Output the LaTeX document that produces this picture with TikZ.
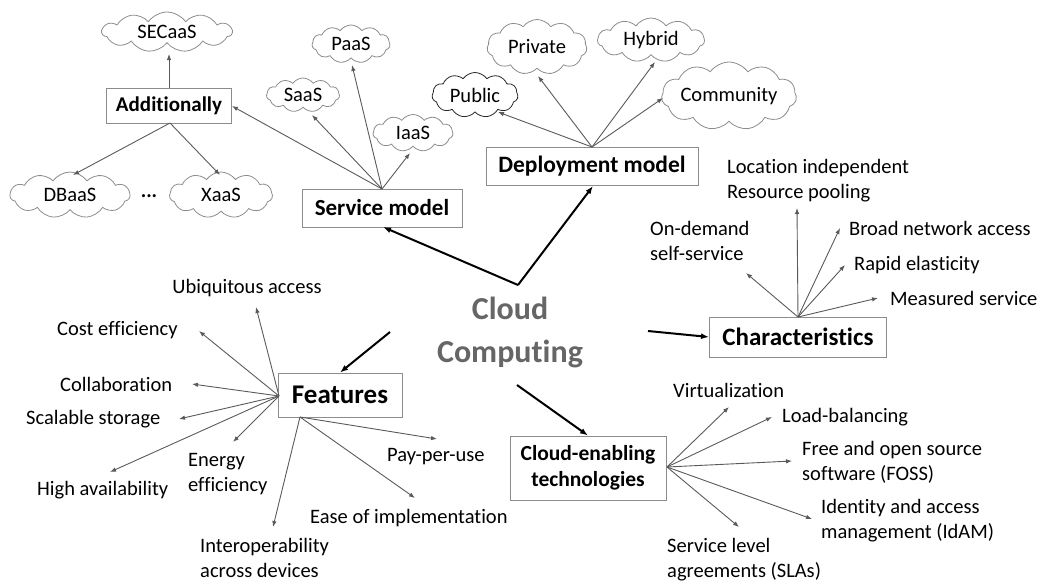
\documentclass[tikz,border=0pt]{standalone}
\usepackage{fontspec}
\setmainfont[Ligatures=NoCommon]{Carlito}
\usetikzlibrary{shapes.symbols,arrows.meta}
\definecolor{linegray}{HTML}{5A5A5A}
\definecolor{boxgray}{HTML}{8C8C8C}
\definecolor{titlegray}{HTML}{666666}
\tikzset{
  lbl/.style={font=\fontsize{20.5}{25}\selectfont, inner sep=0pt, align=left, anchor=west},
  box/.style={draw=boxgray, line width=0.9pt, font=\bfseries\fontsize{21}{25}\selectfont, align=center, inner sep=0pt},
  bigbox/.style={box, font=\bfseries\fontsize{25}{29}\selectfont},
  cloudn/.style={cloud, cloud puffs=11, cloud puff arc=110, cloud ignores aspect, draw=boxgray, line width=0.8pt, font=\fontsize{20.5}{25}\selectfont, inner sep=0pt},
  thin/.style={draw=linegray, line width=0.9pt, -{Latex[length=6pt,width=4.5pt]}},
  thick/.style={draw=black, line width=2pt, -{Latex[length=8pt,width=6pt]}},
}
\begin{document}
\begin{tikzpicture}[x=1pt,y=-1pt]
\useasboundingbox (0,0) rectangle (1042,582);

% central title
\node[font=\bfseries\fontsize{32}{43}\selectfont, text=titlegray, align=center] (cc) at (510,332) {Cloud\\Computing};

% boxes
\node[box, font=\bfseries\fontsize{23}{27}\selectfont, minimum width=160pt, minimum height=38pt] (sm) at (382,208) {Service model};
\node[box, font=\bfseries\fontsize{23.5}{27}\selectfont, minimum width=212pt, minimum height=38pt] (dm) at (592,166) {Deployment model};
\node[box, minimum width=125pt, minimum height=35pt] (add) at (169,106) {Additionally};
\node[bigbox, minimum width=177pt, minimum height=40pt] (ch) at (798,337) {Characteristics};
\node[bigbox, font=\bfseries\fontsize{27}{30}\selectfont, minimum width=124pt, minimum height=44pt] (fe) at (340,395) {Features};
\node[box, font=\bfseries\fontsize{21.5}{26}\selectfont, minimum width=156pt, minimum height=64pt] (cet) at (588,468) {Cloud-enabling\\technologies};

% clouds
\node[cloudn, minimum width=130pt, minimum height=40pt] (sec) at (167,32) {SECaaS};
\node[cloudn, minimum width=120pt, minimum height=46pt] (db) at (70,195) {DBaaS};
\node[cloudn, minimum width=103pt, minimum height=46pt] (xa) at (221,195) {XaaS};
\node[font=\bfseries\fontsize{20.5}{25}\selectfont] (dots) at (149,196) {...};
\node[cloudn, minimum width=78pt, minimum height=38pt] (pa) at (351,44) {PaaS};
\node[cloudn, minimum width=73pt, minimum height=34pt] (sa) at (303,95) {SaaS};
\node[cloudn, minimum width=80pt, minimum height=37pt] (ia) at (413,133) {IaaS};
\node[cloudn, draw=black!85, minimum width=86pt, minimum height=45pt] (pu) at (475,95) {Public};
\node[cloudn, minimum width=100pt, minimum height=55pt] (pr) at (537,47) {Private};
\node[cloudn, minimum width=107pt, minimum height=44pt] (hy) at (651,40) {Hybrid};
\node[cloudn, minimum width=128pt, minimum height=68pt] (co) at (729,96) {Community};

% thick connectors from Cloud Computing
\coordinate (v) at (518,285);
\coordinate (cf) at (390,332);
\coordinate (cc1) at (648,331);
\coordinate (cc2) at (517,385);
\coordinate (smb) at (383,227);
\coordinate (dmb) at (593,186);
\draw[thick] (v) -- (smb);
\draw[thick] (v) -- (dmb);
\draw[thick] (cf) -- (fe.north);
\draw[thick] (cc1) -- (ch.west);
\draw[thick] (cc2) -- (cet.north);

% Additionally
\coordinate (addt) at (169,88);
\coordinate (addb) at (170,123);
\coordinate (secb) at (169,54);
\coordinate (dbt) at (73,175);
\coordinate (xat) at (220,175);
\draw[thin] (addt) -- (secb);
\draw[thin] (addb) -- (dbt);
\draw[thin] (addb) -- (xat);

% Service model fan
\coordinate (smt) at (382,189);
\coordinate (sat) at (312,115);
\coordinate (pat) at (352,65);
\coordinate (iat) at (410,153);
\draw[thin] (smt) -- (add.east);
\draw[thin] (smt) -- (sat);
\draw[thin] (smt) -- (pat);
\draw[thin] (smt) -- (iat);

% Deployment model fan
\coordinate (dmt) at (592,147);
\coordinate (put) at (498,112);
\coordinate (prt) at (538,76);
\coordinate (hyt) at (655,62);
\coordinate (cot) at (663,98);
\draw[thin] (dmt) -- (put);
\draw[thin] (dmt) -- (prt);
\draw[thin] (dmt) -- (hyt);
\draw[thin] (dmt) -- (cot);

% Characteristics
\node[lbl] (od) at (650,240.5) {On-demand\\self-service};
\node[lbl] (li) at (727,180.5) {Location independent\\Resource pooling};
\node[lbl] (bn) at (849,228) {Broad network access};
\node[lbl] (re) at (854,265) {Rapid elasticity};
\node[lbl] (ms) at (890,298) {Measured service};
\coordinate (cht) at (798,317);
\coordinate (odt) at (746,273);
\coordinate (lit) at (797,208);
\coordinate (bnt) at (840,228);
\coordinate (ret) at (845,265);
\coordinate (mst) at (878,298);
\draw[thin] (cht) -- (odt);
\draw[thin] (cht) -- (lit);
\draw[thin] (cht) -- (bnt);
\draw[thin] (cht) -- (ret);
\draw[thin] (cht) -- (mst);

% Features
\node[lbl, anchor=center] (ua) at (247,288) {Ubiquitous access};
\node[lbl] (ce) at (57,330) {Cost efficiency};
\node[lbl] (cl) at (60,384) {Collaboration};
\node[lbl] (ss) at (26,419) {Scalable storage};
\node[lbl] (ha) at (37,490) {High availability};
\node[lbl] (ee) at (188,474.5) {Energy\\efficiency};
\node[lbl] (io) at (200,558) {Interoperability\\across devices};
\node[lbl] (ei) at (310,518) {Ease of implementation};
\node[lbl] (pp) at (387,457) {Pay-per-use};
\coordinate (fel) at (279,396);
\coordinate (feb) at (300,417);
\coordinate (uat) at (256,307);
\coordinate (cet1) at (199,331);
\coordinate (clt) at (192,384);
\coordinate (sst) at (179,419);
\coordinate (hat) at (110,472);
\coordinate (eet) at (233,442);
\coordinate (iot) at (273,527);
\coordinate (eit) at (415,498);
\coordinate (ppt) at (437,439);
\draw[thin] (fel) -- (uat);
\draw[thin] (fel) -- (cet1);
\draw[thin] (fel) -- (clt);
\draw[thin] (fel) -- (sst);
\draw[thin] (fel) -- (hat);
\draw[thin] (fel) -- (eet);
\draw[thin] (feb) -- (iot);
\draw[thin] (feb) -- (eit);
\draw[thin] (feb) -- (ppt);

% Cloud-enabling technologies
\node[lbl] (vi) at (673,390) {Virtualization};
\node[lbl] (lb) at (782,417) {Load-balancing};
\node[lbl] (fo) at (802,462.5) {Free and open source\\software (FOSS)};
\node[lbl] (id) at (821,520.5) {Identity and access\\management (IdAM)};
\node[lbl] (sl) at (667,560) {Service level\\agreements (SLAs)};
\coordinate (cetr) at (667,467);
\coordinate (vit) at (729,407);
\coordinate (lbt) at (772,417);
\coordinate (fot) at (792,461);
\coordinate (idt) at (812,519);
\coordinate (slt) at (739,527);
\draw[thin] (cetr) -- (vit);
\draw[thin] (cetr) -- (lbt);
\draw[thin] (cetr) -- (fot);
\draw[thin] (cetr) -- (idt);
\draw[thin] (cetr) -- (slt);
\end{tikzpicture}
\end{document}
